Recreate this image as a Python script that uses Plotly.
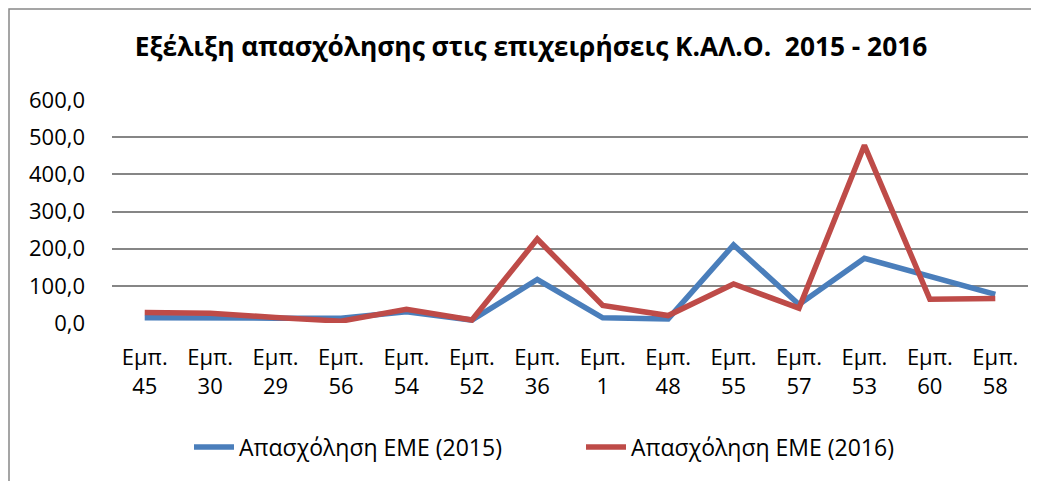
import plotly.graph_objects as go

categories = ["Εμπ. 45", "Εμπ. 30", "Εμπ. 29", "Εμπ. 56", "Εμπ. 54", "Εμπ. 52", "Εμπ. 36",
              "Εμπ. 1", "Εμπ. 48", "Εμπ. 55", "Εμπ. 57", "Εμπ. 53", "Εμπ. 60", "Εμπ. 58"]
tick_labels = ["Εμπ.<br>45", "Εμπ.<br>30", "Εμπ.<br>29", "Εμπ.<br>56", "Εμπ.<br>54", "Εμπ.<br>52",
               "Εμπ.<br>36", "Εμπ.<br>1", "Εμπ.<br>48", "Εμπ.<br>55", "Εμπ.<br>57", "Εμπ.<br>53",
               "Εμπ.<br>60", "Εμπ.<br>58"]
emp_2015 = [14, 12, 13, 13, 30, 8, 117, 14, 11, 210, 50, 174, 125, 77]
emp_2016 = [28, 26, 15, 5, 37, 8, 226, 47, 20, 105, 40, 478, 64, 66]

FONT = "Open Sans"

fig = go.Figure()
fig.add_trace(go.Scatter(x=categories, y=emp_2015, mode="lines", name="Απασχόληση ΕΜΕ (2015)",
                         line=dict(color="#4A7EBB", width=5.5)))
fig.add_trace(go.Scatter(x=categories, y=emp_2016, mode="lines", name="Απασχόληση ΕΜΕ (2016)",
                         line=dict(color="#BE4B48", width=5.5)))

# page has an 8px body margin; plot area spans page x 112..1028, y 100..323
fig.update_layout(
    width=1039, height=481,
    margin=dict(l=104, r=19, t=92, b=166),
    paper_bgcolor="white", plot_bgcolor="white",
    separators=",.",
    font=dict(family=FONT, size=22, color="#000000"),
    title=dict(text="<b>Εξέλιξη απασχόλησης στις επιχειρήσεις Κ.ΑΛ.Ο.  2015 - 2016</b>",
               x=523 / 1039, xanchor="center", y=1 - 39 / 481, yanchor="middle",
               font=dict(family=FONT, size=26.3, color="#000000")),
    showlegend=True,
    legend=dict(orientation="h", x=(581 - 112) / 916, xanchor="center", y=(323 - 447) / 223,
                yanchor="middle", font=dict(family=FONT, size=23), itemwidth=40,
                entrywidth=337, bgcolor="rgba(0,0,0,0)"),
    xaxis=dict(type="category", tickmode="array", tickvals=categories, ticktext=tick_labels,
               showgrid=False, showline=False, ticks="", zeroline=False, ticklabelstandoff=19,
               range=[-0.5, len(categories) - 0.5], tickfont=dict(family=FONT, size=22)),
    yaxis=dict(range=[0, 600], dtick=100, tickformat=".1f", showgrid=True,
               gridcolor="#868686", gridwidth=1.5, zeroline=False, showline=False, ticks="",
               ticklabelstandoff=26, tickfont=dict(family=FONT, size=22)),
    shapes=[dict(type="rect", xref="paper", yref="paper",
                 x0=(9 - 112) / 916, x1=(1060 - 112) / 916,
                 y0=(323 - 520) / 223, y1=(323 - 9) / 223,
                 line=dict(color="#888888", width=1.5), fillcolor="rgba(0,0,0,0)", layer="below")],
)

fig.write_html("out.html")
